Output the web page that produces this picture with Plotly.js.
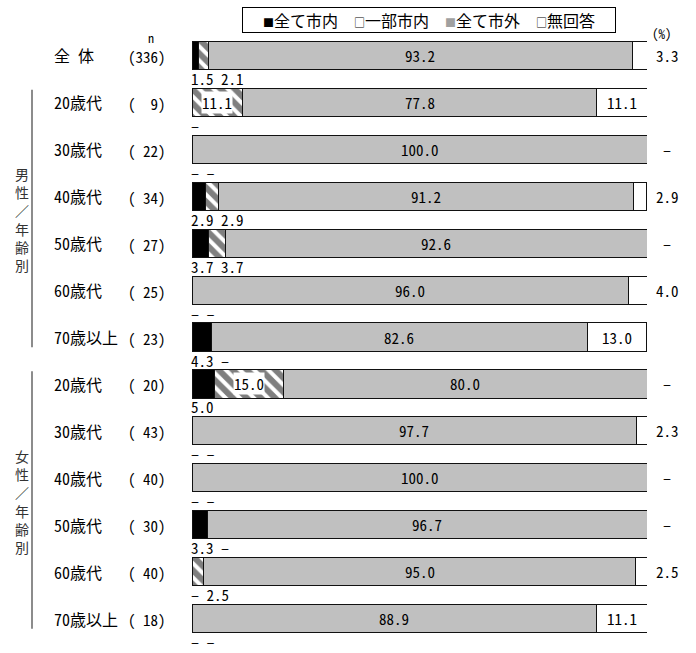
<!DOCTYPE html>
<html>
<head>
<meta charset="utf-8">
<script src="https://cdn.plot.ly/plotly-3.0.1.min.js"></script>
<style>html,body{margin:0;padding:0;background:#fff}#chart{width:696px;height:653px}</style>
</head>
<body>
<div id="chart"></div>
<script>
// ---- data ----
const categories = ['全\u00a0体','20歳代','30歳代','40歳代','50歳代','60歳代','70歳以上','20歳代','30歳代','40歳代','50歳代','60歳代','70歳以上'];
const nValues = [336, 9, 22, 34, 27, 25, 23, 20, 43, 40, 30, 40, 18];
const seriesNames = ['全て市内', '一部市内', '全て市外', '無回答'];
const allInCity  = [1.5, 0, 0, 2.9, 3.7, 0, 4.3, 5.0, 0, 0, 3.3, 0, 0];
const partInCity = [2.1, 11.1, 0, 2.9, 3.7, 0, 0, 15.0, 0, 0, 0, 2.5, 0];
const allOutside = [93.2, 77.8, 100.0, 91.2, 92.6, 96.0, 82.6, 80.0, 97.7, 100.0, 96.7, 95.0, 88.9];
const noAnswer   = [3.3, 11.1, 0, 2.9, 0, 4.0, 13.0, 0, 2.3, 0, 0, 2.5, 11.1];
const groupLabels = ['男<br>性<br>／<br>年<br>齢<br>別', '女<br>性<br>／<br>年<br>齢<br>別'];
const groupRows = [[1, 6], [7, 12]];

// ---- layout geometry ----
const L = 192, W = 455, T = 32, H = 610, FIG_W = 696, FIG_H = 653;
const px = v => (v - L) / W;
const py = v => 1 - (v - T) / H;
const MONO = "'Noto Sans Mono CJK JP', 'Liberation Mono', 'Noto Sans CJK JP', monospace";
const CJK = "'Noto Sans Mono CJK JP', 'Noto Sans CJK JP', sans-serif";
const fmt = v => v === 0 ? '–' : v.toFixed(1);
const rows = categories.map((_, i) => i);

const lineStyle = {color: '#111', width: 1};
const traces = [
  {name: seriesNames[0], x: allInCity, marker: {color: '#000000', line: lineStyle}},
  {name: seriesNames[1], x: partInCity, marker: {color: '#ffffff', line: lineStyle,
     pattern: {shape: '\\', fgcolor: '#000000', bgcolor: '#ffffff', size: 10, solidity: 0.6, fillmode: 'overlay'}}},
  {name: seriesNames[2], x: allOutside, marker: {color: '#c0c0c0', line: lineStyle}},
  {name: seriesNames[3], x: noAnswer, marker: {color: '#ffffff', line: lineStyle}}
].map(t => Object.assign(t, {type: 'bar', orientation: 'h', y: rows, width: 0.6,
  hoverinfo: 'skip', showlegend: false, textposition: 'none'}));

const ann = [];
const base = {showarrow: false, xanchor: 'center', yanchor: 'middle'};
const A = o => ann.push(Object.assign({}, base, o));
const numFont = {family: MONO, size: 15, color: '#000'};
// header
A({xref: 'paper', yref: 'paper', x: px(151), y: py(38), text: 'n', font: {family: MONO, size: 12, color: '#000'}});
A({xref: 'paper', yref: 'paper', x: px(662), y: py(34), text: '(%)', font: {family: MONO, size: 13, color: '#000'}});
// legend box
const sq = (c) => `<span style="color:${c};font-size:11px">■</span>`;
const sqo = () => `<span style="font-size:11px">□</span>`;
A({xref: 'paper', yref: 'paper', x: px(429), y: py(19.5),
  text: `${sq('#000')}${seriesNames[0]}\u3000${sqo()}${seriesNames[1]}\u3000${sq('#a0a0a0')}${seriesNames[2]}\u3000${sqo()}${seriesNames[3]}`,
  font: {family: CJK, size: 16, color: '#000'}, bordercolor: '#000', borderwidth: 1, borderpad: 2,
  width: 368, height: 20, bgcolor: '#fff'});

rows.forEach(i => {
  // row labels
  A({xref: 'paper', yref: 'y', x: px(52), y: i, xanchor: 'left',
    text: categories[i], font: {family: CJK, size: 16, color: '#000'}});
  A({xref: 'paper', yref: 'y', x: px(168), y: i, yshift: -1, xanchor: 'right',
    text: '(' + String(nValues[i]).padStart(3, '\u00a0') + ')', font: numFont});
  // below-bar labels for small first two segments
  const below = [];
  const a = allInCity[i], b = partInCity[i];
  if (a < 10) below.push(fmt(a));
  if (b < 10) below.push(fmt(b));
  if (below.length) A({xref: 'x', yref: 'y', x: 0, y: i, yshift: -23, xshift: -3, xanchor: 'left',
    text: below.join('\u00a0'), font: numFont});
  // inside labels
  if (a >= 10) A({xref: 'x', yref: 'y', x: a / 2, y: i, text: fmt(a), font: {family: MONO, size: 15, color: '#fff'}});
  if (b >= 10) A({xref: 'x', yref: 'y', x: a + b / 2, y: i, text: fmt(b), font: numFont, bgcolor: '#fff', borderpad: 0});
  A({xref: 'x', yref: 'y', x: a + b + allOutside[i] / 2, y: i, text: fmt(allOutside[i]), font: numFont});
  const d = noAnswer[i];
  if (d >= 10) A({xref: 'x', yref: 'y', x: a + b + allOutside[i] + d / 2, y: i, text: fmt(d), font: numFont});
  else A({xref: 'paper', yref: 'y', x: px(667), y: i, text: fmt(d), font: numFont});
});

const shapes = [];
groupRows.forEach((g, k) => {
  A({xref: 'paper', yref: 'y', x: px(22), y: (g[0] + g[1]) / 2,
    text: groupLabels[k], font: {family: CJK, size: 14, color: '#333'}});
  shapes.push({type: 'line', xref: 'paper', yref: 'y', x0: px(32), x1: px(32),
    y0: g[0] - 0.27, y1: g[1] + 0.22, line: {color: '#666', width: 1.5}});
});

const layout = {
  width: FIG_W, height: FIG_H, barmode: 'stack', bargap: 0,
  margin: {l: L, r: FIG_W - L - W, t: T, b: FIG_H - T - H, pad: 0},
  paper_bgcolor: '#fff', plot_bgcolor: '#fff',
  xaxis: {range: [0, 100], visible: false, fixedrange: true},
  yaxis: {range: [12.5, -0.5], visible: false, fixedrange: true},
  annotations: ann, shapes: shapes, showlegend: false
};
Plotly.newPlot('chart', traces, layout, {displayModeBar: false, staticPlot: true});
</script>
</body>
</html>
